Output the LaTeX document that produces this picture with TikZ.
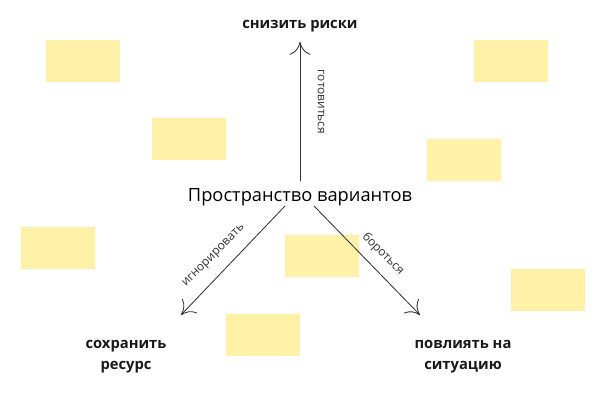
\documentclass[tikz,border=0pt]{standalone}
\usepackage{fontspec}
\setmainfont{Open Sans}
\usetikzlibrary{arrows.meta,calc}
\definecolor{notey}{HTML}{FFF1A8}
\definecolor{inkg}{HTML}{333333}
\tikzstyle{every path}=[line cap=round,line join=round]

\begin{document}
\begin{tikzpicture}[x=0.025cm,y=-0.025cm,
	note/.style={fill=notey,draw=none},
	goal/.style={font=\bfseries\fontsize{10.5}{15}\selectfont,align=center,text=black!90},
	way/.style={font=\fontsize{8.5}{10}\selectfont,text=inkg},
	arr/.style={draw=inkg,line width=0.6pt,-{Computer Modern Rightarrow[length=3.2mm,width=5.2mm]}}]
	\useasboundingbox (0,0) rectangle (600,400);
	% sticky notes
	\newcommand\nw{74} %width of a note
	\newcommand\nh{42} %height of a note
	\foreach \px/\py in {46/40,152/118,21/227,285/235,226/314,474/40,427/139,511/269}
		\fill[note] (\px,\py) rectangle ++(\nw,\nh);
	% centre and goals
	\node[font=\fontsize{13}{15}\selectfont,inner sep=0pt] (opt) at (300,197) {Пространство вариантов};
	\node[goal] (risk) at (300,26) {снизить риски};
	\node[goal] (keep) at (126,357) {сохранить\\ресурс};
	\node[goal] (act) at (463,357) {повлиять на\\ситуацию};
	% branch ends
	\coordinate (keepTip) at (181,315); % tip of the left arrow
	\coordinate (actTip) at (420,315); % tip of the right arrow
	\draw[arr] (opt.north |- 0,181) -- (risk.south |- 0,42);
	\draw[arr] ($(opt.south)+(-15,0)$) -- (keepTip);
	\draw[arr] ($(opt.south)+(14,0)$) -- (actTip);
	% branch labels
	\node[way,rotate=-90] (prep) at (321,102) {готовиться};
	\node[way,rotate=45] (ign) at (214,256) {игнорировать};
	\node[way,rotate=-45] (fight) at (383,254) {бороться};
\end{tikzpicture}
\end{document}
